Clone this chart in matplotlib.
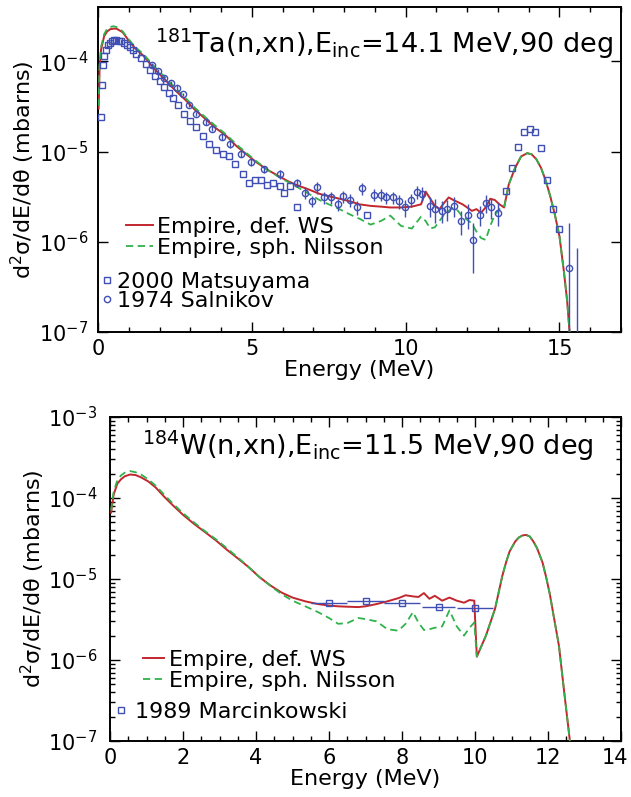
import numpy as np
import matplotlib
matplotlib.use('Agg')
import matplotlib.pyplot as plt
from matplotlib.ticker import LogLocator, MultipleLocator, NullFormatter, NullLocator
from matplotlib.lines import Line2D
from matplotlib.transforms import ScaledTranslation

plt.rcParams['font.family'] = ['DejaVu Sans']
plt.rcParams['mathtext.fontset'] = 'dejavusans'

# ---------------- Ta-181 panel data ----------------
ta_E = [0.02, 0.05, 0.1, 0.2, 0.3, 0.4, 0.5, 0.6, 0.7, 0.8, 1.0, 1.2, 1.48, 1.8, 2.15, 2.5,
        2.82, 3.15, 3.49, 3.8, 4.16, 4.5, 4.83, 5.15, 5.5, 5.85, 6.17, 6.5, 6.85, 7.2, 7.5,
        7.85, 8.2, 8.5, 8.86, 9.2, 9.5, 9.85, 10.2, 10.5, 10.65, 10.8, 10.95, 11.1, 11.25,
        11.4, 11.55, 11.7, 11.85, 12.0, 12.15, 12.3, 12.45, 12.6, 12.75, 12.9, 13.05, 13.2,
        13.35, 13.55, 13.75, 13.95, 14.1, 14.25, 14.4, 14.55, 14.7, 14.85, 15.0, 15.15,
        15.25, 15.35]
ta_ws = [3e-5, 8e-5, 1.35e-4, 1.9e-4, 2.15e-4, 2.27e-4, 2.3e-4, 2.3e-4, 2.2e-4, 2.1e-4,
         1.7e-4, 1.4e-4, 1.15e-4, 8.5e-5, 6.4e-5, 4.8e-5, 3.8e-5, 2.9e-5, 2.3e-5, 1.85e-5,
         1.5e-5, 1.15e-5, 9.3e-6, 7.6e-6, 6.3e-6, 5.4e-6, 4.7e-6, 4.2e-6, 3.8e-6, 3.4e-6,
         3.2e-6, 3.0e-6, 2.8e-6, 2.6e-6, 2.5e-6, 2.45e-6, 2.4e-6, 2.4e-6, 2.45e-6, 2.6e-6,
         3.6e-6, 3.0e-6, 2.5e-6, 2.3e-6, 2.7e-6, 3.1e-6, 2.9e-6, 2.75e-6, 2.6e-6, 2.4e-6,
         2.2e-6, 2.3e-6, 2.1e-6, 2.4e-6, 3.0e-6, 2.9e-6, 2.6e-6, 2.4e-6, 4.3e-6, 6.5e-6,
         8.8e-6, 9.6e-6, 9.3e-6, 8.2e-6, 6.6e-6, 4.8e-6, 3.2e-6, 2.0e-6, 1.15e-6, 4.5e-7,
         2.2e-7, 8e-8]
ta_nil = [3.2e-5, 9e-5, 1.45e-4, 2.0e-4, 2.3e-4, 2.4e-4, 2.45e-4, 2.4e-4, 2.3e-4, 2.15e-4,
          1.75e-4, 1.45e-4, 1.2e-4, 9e-5, 6.8e-5, 5.1e-5, 4.0e-5, 3.05e-5, 2.4e-5, 1.95e-5,
          1.55e-5, 1.2e-5, 9.6e-6, 7.8e-6, 6.3e-6, 5.3e-6, 4.6e-6, 4.0e-6, 3.4e-6, 2.9e-6,
          2.6e-6, 2.3e-6, 2.0e-6, 1.8e-6, 1.55e-6, 1.7e-6, 1.95e-6, 1.5e-6, 1.4e-6, 1.9e-6,
          1.7e-6, 1.4e-6, 1.45e-6, 1.7e-6, 2.0e-6, 2.2e-6, 2.4e-6, 2.2e-6, 1.9e-6, 1.75e-6,
          1.6e-6, 1.3e-6, 1.1e-6, 1.05e-6, 1.5e-6, 2.0e-6, 2.3e-6, 2.4e-6, 4.3e-6, 6.5e-6,
          8.8e-6, 9.6e-6, 9.3e-6, 8.2e-6, 6.6e-6, 4.8e-6, 3.2e-6, 2.0e-6, 1.15e-6, 4.5e-7,
          2.2e-7, 8e-8]

mat_E = [0.1, 0.13, 0.17, 0.21, 0.26, 0.32, 0.38, 0.45, 0.52, 0.6, 0.68, 0.76, 0.85, 0.95,
         1.05, 1.15, 1.25, 1.4, 1.55, 1.7, 1.85, 2.0, 2.15, 2.3, 2.45, 2.6, 2.8, 3.0, 3.2,
         3.4, 3.6, 3.85, 4.05, 4.25, 4.45, 4.7, 4.9, 5.1, 5.3, 5.5, 5.7, 5.9, 6.05, 6.25,
         6.46, 8.75, 13.25, 13.45, 13.65, 13.85, 14.05, 14.2, 14.4, 14.6, 14.8, 15.0]
mat_v = [2.4e-5, 5.5e-5, 9e-5, 1.15e-4, 1.35e-4, 1.5e-4, 1.6e-4, 1.68e-4, 1.72e-4, 1.72e-4,
         1.7e-4, 1.66e-4, 1.6e-4, 1.52e-4, 1.43e-4, 1.33e-4, 1.22e-4, 1.08e-4, 9.3e-5,
         8.0e-5, 6.9e-5, 6.0e-5, 5.2e-5, 4.5e-5, 3.9e-5, 3.3e-5, 2.6e-5, 2.2e-5, 1.85e-5,
         1.5e-5, 1.2e-5, 1.05e-5, 9.3e-6, 9e-6, 7.2e-6, 5.6e-6, 4.5e-6, 4.9e-6, 4.9e-6,
         4.3e-6, 4.5e-6, 4.2e-6, 3.5e-6, 4.2e-6, 2.4e-6, 2.0e-6, 3.7e-6, 6.5e-6, 1.12e-5,
         1.65e-5, 1.76e-5, 1.63e-5, 1.1e-5, 4.9e-6, 2.3e-6, 1.4e-6]

sal_E = [1.75, 1.95, 2.15, 2.36, 2.56, 2.76, 2.96, 3.2, 3.5, 3.7, 4.04, 4.3, 4.64, 4.98,
         5.38, 5.92, 6.46, 6.74, 6.97, 7.13, 7.36, 7.58, 7.8, 7.97, 8.19, 8.41, 8.58, 8.97,
         9.19, 9.36, 9.6, 9.8, 9.99, 10.19, 10.36, 10.52, 10.8, 10.97, 11.19, 11.36, 11.58,
         11.8, 12.02, 12.19, 12.41, 12.6, 12.78, 13.0, 15.3]
sal_v = [9e-5, 7.9e-5, 6.6e-5, 5.8e-5, 5.1e-5, 4.3e-5, 3.3e-5, 2.6e-5, 2.1e-5, 1.8e-5,
         1.45e-5, 1.2e-5, 9.5e-6, 7.6e-6, 6.4e-6, 5.6e-6, 4.5e-6, 3.5e-6, 2.8e-6, 4.0e-6,
         3.1e-6, 3.1e-6, 2.6e-6, 3.2e-6, 2.9e-6, 2.4e-6, 3.9e-6, 3.3e-6, 3.3e-6, 3.1e-6,
         3.1e-6, 2.8e-6, 2.4e-6, 2.9e-6, 3.6e-6, 3.4e-6, 2.5e-6, 2.3e-6, 2.2e-6, 2.3e-6,
         2.5e-6, 1.7e-6, 2.0e-6, 1.05e-6, 2.0e-6, 2.7e-6, 2.4e-6, 2.1e-6, 5.1e-7]
sal_lo = [8.5e-5, 7.5e-5, 6.3e-5, 5.5e-5, 4.8e-5, 4.1e-5, 3.1e-5, 2.45e-5, 1.95e-5, 1.7e-5,
          1.35e-5, 1.1e-5, 8.7e-6, 6.9e-6, 5.8e-6, 5.0e-6, 4.0e-6, 3.0e-6, 2.4e-6, 3.4e-6,
          2.6e-6, 2.6e-6, 2.2e-6, 2.7e-6, 2.4e-6, 2.0e-6, 3.3e-6, 2.8e-6, 2.8e-6, 2.6e-6,
          2.6e-6, 2.3e-6, 1.9e-6, 2.4e-6, 3.0e-6, 2.8e-6, 1.9e-6, 1.6e-6, 1.6e-6, 1.7e-6,
          1.9e-6, 1.2e-6, 1.4e-6, 4.5e-7, 1.5e-6, 2.1e-6, 1.8e-6, 1.5e-6, 1.0e-7]
sal_hi = [9.5e-5, 8.3e-5, 6.9e-5, 6.1e-5, 5.4e-5, 4.5e-5, 3.5e-5, 2.75e-5, 2.25e-5, 1.9e-5,
          1.55e-5, 1.3e-5, 1.03e-5, 8.3e-6, 7.0e-6, 6.2e-6, 5.0e-6, 4.0e-6, 3.2e-6, 4.6e-6,
          3.6e-6, 3.6e-6, 3.0e-6, 3.7e-6, 3.4e-6, 2.8e-6, 4.5e-6, 3.8e-6, 3.8e-6, 3.6e-6,
          3.6e-6, 3.3e-6, 2.9e-6, 3.4e-6, 4.2e-6, 4.0e-6, 3.1e-6, 3.0e-6, 2.8e-6, 2.9e-6,
          3.1e-6, 2.2e-6, 2.6e-6, 1.6e-6, 2.5e-6, 3.3e-6, 3.0e-6, 2.7e-6, 1.6e-6]
bar_E = [15.58]
bar_lo = [1.0e-7]
bar_hi = [8.5e-7]

# ---------------- W-184 panel data ----------------
w_E = [0.03, 0.1, 0.2, 0.3, 0.4, 0.55, 0.7, 0.85, 1.05, 1.25, 1.5, 1.75, 2.0, 2.3, 2.6,
       2.9, 3.2, 3.5, 3.8, 4.1, 4.4, 4.7, 5.0, 5.35, 5.7, 6.0, 6.25, 6.5, 6.8, 7.0, 7.3,
       7.6, 7.9, 8.1, 8.3, 8.45, 8.6, 8.75, 8.9, 9.1, 9.3, 9.5, 9.7, 9.85, 9.98, 10.05,
       10.3, 10.55, 10.75, 10.85, 10.95, 11.1, 11.2, 11.3, 11.4, 11.5, 11.6, 11.7, 11.85,
       11.95, 12.05, 12.15, 12.3, 12.45, 12.6]
w_ws = [6.6e-5, 1.1e-4, 1.5e-4, 1.7e-4, 1.85e-4, 1.95e-4, 1.92e-4, 1.8e-4, 1.6e-4, 1.35e-4,
        1.02e-4, 7.9e-5, 6.2e-5, 4.8e-5, 3.8e-5, 3.0e-5, 2.3e-5, 1.8e-5, 1.4e-5, 1.05e-5,
        8.3e-6, 6.8e-6, 5.9e-6, 5.3e-6, 4.9e-6, 4.7e-6, 4.6e-6, 4.55e-6, 4.5e-6, 4.6e-6,
        4.9e-6, 5.3e-6, 5.8e-6, 6.3e-6, 6.1e-6, 6.0e-6, 6.7e-6, 5.7e-6, 6.2e-6, 5.4e-6,
        5.9e-6, 5.4e-6, 5.1e-6, 5.5e-6, 5.4e-6, 1.1e-6, 2.0e-6, 4.3e-6, 1.1e-5, 1.6e-5,
        2.2e-5, 2.9e-5, 3.25e-5, 3.45e-5, 3.5e-5, 3.35e-5, 2.9e-5, 2.4e-5, 1.6e-5,
        1.05e-5, 6.5e-6, 3.6e-6, 1.5e-6, 3.8e-7, 1e-7]
w_nil = [7e-5, 1.2e-4, 1.65e-4, 1.9e-4, 2.05e-4, 2.15e-4, 2.08e-4, 1.95e-4, 1.7e-4, 1.42e-4,
         1.08e-4, 8.3e-5, 6.5e-5, 5.0e-5, 3.9e-5, 3.1e-5, 2.4e-5, 1.85e-5, 1.4e-5, 1.05e-5,
         8.2e-6, 6.5e-6, 5.4e-6, 4.6e-6, 3.9e-6, 3.3e-6, 2.8e-6, 2.85e-6, 3.3e-6, 3.2e-6,
         3.0e-6, 2.4e-6, 2.3e-6, 2.8e-6, 3.9e-6, 2.9e-6, 2.35e-6, 2.4e-6, 2.5e-6, 2.6e-6,
         4.1e-6, 2.6e-6, 2.0e-6, 2.5e-6, 2.9e-6, 1.1e-6, 2.0e-6, 4.3e-6, 1.1e-5, 1.6e-5,
         2.2e-5, 2.9e-5, 3.25e-5, 3.45e-5, 3.5e-5, 3.35e-5, 2.9e-5, 2.4e-5, 1.6e-5,
         1.05e-5, 6.5e-6, 3.6e-6, 1.5e-6, 3.8e-7, 1e-7]

marc_E = [6.0, 7.0, 8.0, 9.0, 10.0]
marc_v = [5.1e-6, 5.4e-6, 5.1e-6, 4.5e-6, 4.4e-6]
marc_dE = [0.5, 0.5, 0.5, 0.45, 0.5]

RED = '#c1272d'
GREEN = '#2fb24b'
BLUE = '#3f4fb3'
W, H = 631, 797
TFS = 15      # tick labels
LFS = 16      # axis labels and legends

fig = plt.figure(figsize=(W / 100, H / 100), dpi=100)


def frac(l, t, r, b):
    return [l / W, 1 - b / H, (r - l) / W, (b - t) / H]


def style(ax, xticks, xmin, yminor, ypad):
    ax.set_yscale('log')
    ax.set_xticks(xticks)
    ax.xaxis.set_minor_locator(MultipleLocator(xmin))
    ax.yaxis.set_major_locator(LogLocator(base=10, numticks=20))
    if yminor:
        ax.yaxis.set_minor_locator(LogLocator(base=10, subs=np.arange(2, 10), numticks=20))
    else:
        ax.yaxis.set_minor_locator(NullLocator())
    ax.yaxis.set_minor_formatter(NullFormatter())
    ax.tick_params(which='both', direction='in', top=True, right=True, labelsize=TFS,
                   width=1.0)
    ax.tick_params(which='major', length=7)
    ax.tick_params(which='minor', length=3.5)
    ax.tick_params(axis='y', which='major', pad=ypad)
    ax.tick_params(axis='x', which='major', pad=5)
    for s in ax.spines.values():
        s.set_linewidth(1.4)
    ax.set_xlabel('Energy (MeV)', fontsize=LFS, labelpad=1)
    ax.set_ylabel('d$^2$σ/dE/dθ (mbarns)', fontsize=LFS)


# ---- top panel ----
ax1 = fig.add_axes(frac(98, 7, 621, 332))
ax1.plot(ta_E, ta_ws, color=RED, lw=1.4, zorder=3)
ax1.plot(ta_E, ta_nil, color=GREEN, lw=1.3, dashes=(4, 2.5), zorder=4)
sal_v_a = np.array(sal_v)
ax1.errorbar(sal_E, sal_v, yerr=[sal_v_a - np.array(sal_lo), np.array(sal_hi) - sal_v_a],
             fmt='o', ms=4.5, mfc='none', mec=BLUE, mew=1.0, ecolor=BLUE, elinewidth=1.0,
             capsize=0, zorder=5)
ax1.vlines(bar_E, bar_lo, bar_hi, color=BLUE, lw=1.0, zorder=5)
ax1.plot(mat_E, mat_v, 's', ms=4, mfc='none', mec=BLUE, mew=1.0, zorder=5)
ax1.set_xlim(0, 17)
ax1.set_ylim(1e-7, 4e-4)
style(ax1, [0, 5, 10, 15], 1, False, 7)
ax1.yaxis.set_label_coords((37 - 98) / 523, 0.5)
fig.text(384 / W, 1 - 53 / H, r'$^{181}$Ta(n,xn),E$_{\rm inc}$=14.1 MeV,90 deg',
         ha='center', va='baseline', fontsize=19.5)

h1 = [Line2D([], [], color=RED, lw=1.4),
      Line2D([], [], color=GREEN, lw=1.3, dashes=(4, 2.5))]
leg1 = ax1.legend(h1, ['Empire, def. WS', 'Empire, sph. Nilsson'], loc='upper left',
                  bbox_to_anchor=(126 / W, 1 - 217 / H), bbox_transform=fig.transFigure,
                  frameon=False, fontsize=LFS, handlelength=1.2, handletextpad=0.2,
                  labelspacing=0.05, borderpad=0, borderaxespad=0)
ax1.add_artist(leg1)
h2 = [Line2D([], [], ls='none', marker='s', ms=4, mfc='none', mec=BLUE, mew=1.0),
      Line2D([], [], ls='none', marker='o', ms=4.5, mfc='none', mec=BLUE, mew=1.0)]
ax1.legend(h2, ['2000 Matsuyama', '1974 Salnikov'], loc='upper left',
           bbox_to_anchor=(103 / W, 1 - 272 / H), bbox_transform=fig.transFigure,
           frameon=False, fontsize=LFS, handlelength=0.4, handletextpad=0.25,
           labelspacing=-0.05, borderpad=0, borderaxespad=0)

# ---- bottom panel ----
ax2 = fig.add_axes(frac(110, 417, 621, 741))
ax2.plot(w_E, w_ws, color=RED, lw=1.4, zorder=3)
ax2.plot(w_E, w_nil, color=GREEN, lw=1.3, dashes=(4, 2.5), zorder=4)
ax2.errorbar(marc_E, marc_v, xerr=marc_dE, fmt='s', ms=4, mfc='none', mec=BLUE, mew=1.0,
             ecolor=BLUE, elinewidth=1.0, capsize=0, zorder=5)
ax2.set_xlim(0, 14)
ax2.set_ylim(1e-7, 1e-3)
style(ax2, [0, 2, 4, 6, 8, 10, 12, 14], 0.5, True, 9)
ax2.yaxis.set_label_coords((47 - 110) / 511, 0.5)
fig.text(368 / W, 1 - 455 / H, r'$^{184}$W(n,xn),E$_{\rm inc}$=11.5 MeV,90 deg',
         ha='center', va='baseline', fontsize=19.5)

# keep the last tick label ("14") inside the figure, as in the reference
last = ax2.xaxis.get_major_ticks()[-1]
last.label1.set_transform(last.label1.get_transform() +
                          ScaledTranslation(-6 / 100, 0, fig.dpi_scale_trans))

leg2 = ax2.legend(h1, ['Empire, def. WS', 'Empire, sph. Nilsson'], loc='upper left',
                  bbox_to_anchor=(143 / W, 1 - 650 / H), bbox_transform=fig.transFigure,
                  frameon=False, fontsize=LFS, handlelength=0.95, handletextpad=0.2,
                  labelspacing=0.05, borderpad=0, borderaxespad=0)
ax2.add_artist(leg2)
h3 = [Line2D([], [], ls='none', marker='s', ms=4, mfc='none', mec=BLUE, mew=1.0)]
ax2.legend(h3, ['1989 Marcinkowski'], loc='upper left',
           bbox_to_anchor=(117 / W, 1 - 702 / H), bbox_transform=fig.transFigure,
           frameon=False, fontsize=LFS, handlelength=0.4, handletextpad=0.4,
           borderpad=0, borderaxespad=0)

fig.savefig('out.png', dpi=100)
